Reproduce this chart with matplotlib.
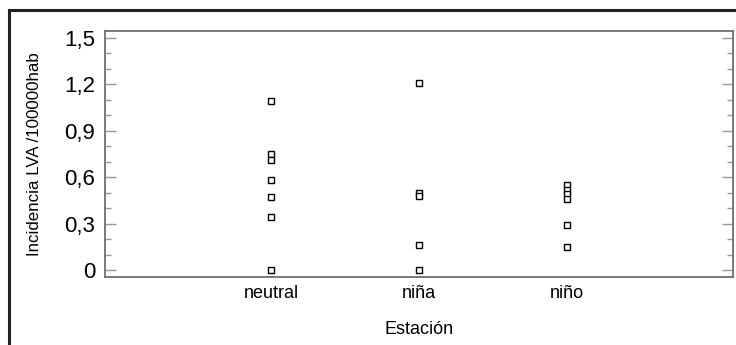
import matplotlib.pyplot as plt
from matplotlib.lines import Line2D
from matplotlib.ticker import MultipleLocator, FuncFormatter

plt.rcParams['font.family'] = ['Liberation Sans', 'DejaVu Sans']

# Incidence per station group
categories = ['neutral', 'niña', 'niño']
neutral = [1.09, 0.75, 0.71, 0.58, 0.47, 0.34, 0.0]
nina = [1.21, 0.50, 0.48, 0.16, 0.0]
nino = [0.55, 0.52, 0.49, 0.46, 0.29, 0.15]
groups = [neutral, nina, nino]

fig = plt.figure(figsize=(7.36, 3.45), dpi=100)
ax = fig.add_axes([105 / 736, 1 - 277 / 345, 628 / 736, 246 / 345])

for i, vals in enumerate(groups, start=1):
    ax.plot([i] * len(vals), vals, linestyle='none', marker='s', markersize=4.2,
            markerfacecolor='white', markeredgecolor='black', markeredgewidth=1.0)

ax.set_xlim(-0.12, 4.12)
ax.set_ylim(-0.045, 1.545)
ax.set_xticks([1, 2, 3])
ax.set_xticklabels(categories, fontsize=13)
ax.tick_params(axis='x', length=0, pad=6)

ax.yaxis.set_major_locator(MultipleLocator(0.3))
ax.yaxis.set_minor_locator(MultipleLocator(0.1))
ax.yaxis.set_major_formatter(FuncFormatter(lambda v, p: '0' if abs(v) < 1e-9 else f'{v:.1f}'.replace('.', ',')))
ax.tick_params(axis='y', which='major', direction='in', length=8, width=1.0,
               color='#999999', labelsize=16, pad=7, right=True)
ax.tick_params(axis='y', which='minor', direction='in', length=4.5, width=1.0,
               color='#999999', right=True)

for s in ax.spines.values():
    s.set_color('#6e6e6e')
    s.set_linewidth(1.3)

ax.set_xlabel('Estación', fontsize=13)
ax.xaxis.set_label_coords(0.5, -0.18)
ax.set_ylabel('Incidencia LVA /100000hab', fontsize=12.2)
ax.yaxis.set_label_coords(-0.1, 0.5)

# outer frame edges
fig.add_artist(Line2D([9 / 736, 9 / 736], [0, 1 - 10 / 345], color='#222222', linewidth=2.2))
fig.add_artist(Line2D([9 / 736, 1], [1 - 10 / 345, 1 - 10 / 345], color='#222222', linewidth=2.2))

fig.savefig('out.png', dpi=100)
